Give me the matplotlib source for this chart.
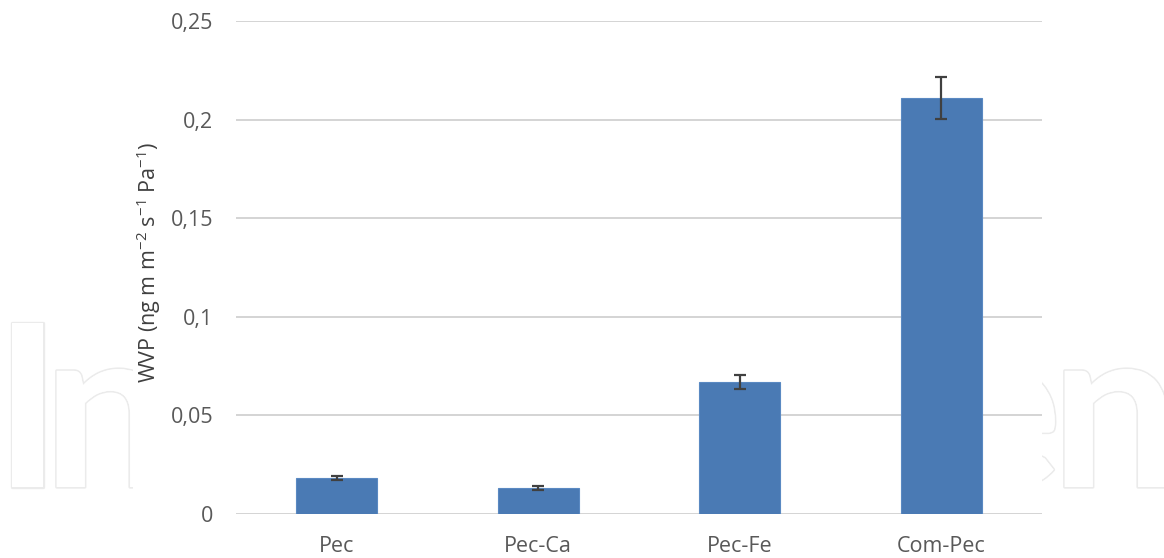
import matplotlib
matplotlib.use("Agg")
import matplotlib.pyplot as plt
import matplotlib.patheffects as pe
from matplotlib.transforms import Bbox, TransformedBbox

# Water vapour permeability of the pectin films
categories = ["Pec", "Pec-Ca", "Pec-Fe", "Com-Pec"]
wvp = [0.0183, 0.0133, 0.0669, 0.211]
wvp_err = [0.0010, 0.0011, 0.0035, 0.0105]
y_ticks = [0, 0.05, 0.1, 0.15, 0.2, 0.25]
y_tick_labels = ["0", "0,05", "0,1", "0,15", "0,2", "0,25"]

plt.rcParams["font.family"] = ["Open Sans", "DejaVu Sans"]

W, H = 1164, 558
fig = plt.figure(figsize=(W / 100, H / 100), dpi=100)
fig.patch.set_facecolor("white")

# faint outlined publisher watermark, hidden behind the white chart area
left_clip = TransformedBbox(Bbox([[0, 0], [133 / W, 1]]), fig.transFigure)
right_clip = TransformedBbox(Bbox([[1042 / W, 0], [1, 1]]), fig.transFigure)
wm_style = dict(fontsize=163, fontweight="bold", family="Lato", color="white",
                ha="left", va="baseline", zorder=0,
                path_effects=[pe.withStroke(linewidth=2.4, foreground="#ebebeb"),
                              pe.Normal()])
for ch, px, clip in [("I", -6, left_clip), ("n", 43, left_clip),
                     ("e", 941, right_clip), ("n", 1051, right_clip)]:
    t = fig.text(px / W, 1 - 487 / H, ch, **wm_style)
    t.set_clip_box(clip)
    t.set_clip_on(True)

ax = fig.add_axes([236 / W, 1 - 514 / H, (1042 - 236) / W, (514 - 21) / H])
ax.set_zorder(2)
ax.patch.set_alpha(0)

x = range(len(categories))
ax.bar(x, wvp, width=0.4, color="#4a7ab4", edgecolor="#5a89c2",
       linewidth=0.8, zorder=3)
ax.errorbar(x, wvp, yerr=wvp_err, fmt="none", ecolor="#404040",
            elinewidth=1.6, capsize=4.5, capthick=1.6, zorder=4)

ax.set_xlim(-0.5, len(categories) - 0.5)
ax.set_ylim(0, 0.25)
ax.set_yticks(y_ticks)
ax.set_yticklabels(y_tick_labels)
ax.set_xticks(list(x))
ax.set_xticklabels(categories)
ax.yaxis.grid(True, color="#d4d4d4", linewidth=1.4, zorder=0)
ax.set_axisbelow(True)
for s in ax.spines.values():
    s.set_visible(False)
ax.tick_params(axis="both", length=0, labelsize=15.5, colors="#595959")
ax.tick_params(axis="y", pad=16.5)
ax.tick_params(axis="x", pad=16)

ax.set_ylabel("WVP (ng m m$^{\\mathregular{-2}}$ s$^{\\mathregular{-1}}$ Pa$^{\\mathregular{-1}}$)",
              fontsize=15.5, color="#404040")
ax.yaxis.set_label_coords(-(236 - 163) / 806, 0.51)

fig.savefig("out.png", dpi=100, facecolor="white")
